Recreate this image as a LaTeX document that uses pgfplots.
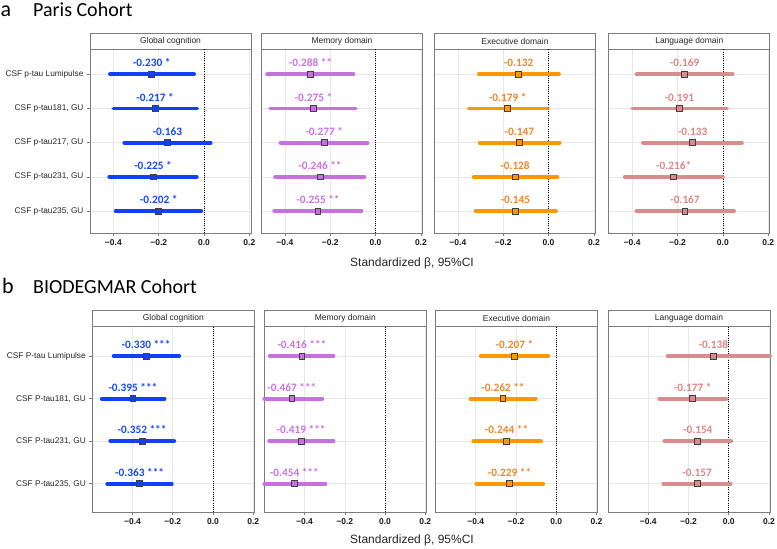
\documentclass[border=0pt]{standalone}
\usepackage{fontspec}
\setmainfont{Liberation Sans}
\newfontfamily\carlito{Carlito}
\usepackage{pgfplots}
\pgfplotsset{compat=1.18}
\usepackage{pgfplotstable}

\definecolor{cBlue}{RGB}{16,64,250}
\definecolor{cBlueT}{RGB}{22,72,255}
\definecolor{cViol}{RGB}{200,112,222}
\definecolor{cViolT}{RGB}{204,112,232}
\definecolor{cOran}{RGB}{255,152,0}
\definecolor{cOranT}{RGB}{242,134,40}
\definecolor{cPink}{RGB}{217,140,140}
\definecolor{cPinkT}{RGB}{226,132,132}
\definecolor{frame}{RGB}{125,125,125}
\definecolor{gridc}{RGB}{232,232,232}

% ---------- Paris cohort (y: 5 = Lumipulse ... 1 = p-tau235)
\pgfplotstableread[col sep=comma,row sep=\\]{
y,est,lo,hi,lab\\
5,-0.231,-0.415,-0.044,-0.230 *\\
4,-0.216,-0.400,-0.030,-0.217 *\\
3,-0.162,-0.352,0.029,-0.163\\
2,-0.225,-0.418,-0.032,-0.225 *\\
1,-0.200,-0.390,-0.012,-0.202 *\\
}\PGlob
\pgfplotstableread[col sep=comma,row sep=\\]{
y,est,lo,hi,lab\\
5,-0.287,-0.478,-0.098,-0.288 **\\
4,-0.274,-0.465,-0.087,-0.275 *\\
3,-0.226,-0.419,-0.035,-0.277 *\\
2,-0.245,-0.443,-0.049,-0.246 **\\
1,-0.254,-0.447,-0.062,-0.255 **\\
}\PMem
\pgfplotstableread[col sep=comma,row sep=\\]{
y,est,lo,hi,lab\\
5,-0.132,-0.307,0.046,-0.132\\
4,-0.180,-0.352,-0.003,-0.179 *\\
3,-0.129,-0.304,0.049,-0.147\\
2,-0.148,-0.330,0.039,-0.128\\
1,-0.146,-0.322,0.033,-0.145\\
}\PExe
\pgfplotstableread[col sep=comma,row sep=\\]{
y,est,lo,hi,lab\\
5,-0.169,-0.381,0.043,-0.169\\
4,-0.192,-0.400,0.019,-0.191\\
3,-0.133,-0.352,0.084,-0.133\\
2,-0.217,-0.433,0.000,-0.216*\\
1,-0.167,-0.381,0.049,-0.167\\
}\PLan

% ---------- BIODEGMAR cohort (y: 4 = Lumipulse ... 1 = P-tau235)
\pgfplotstableread[col sep=comma,row sep=\\]{
y,est,lo,hi,lab\\
4,-0.333,-0.494,-0.168,-0.330 ***\\
3,-0.398,-0.553,-0.241,-0.395 ***\\
2,-0.353,-0.511,-0.193,-0.352 ***\\
1,-0.365,-0.526,-0.205,-0.363 ***\\
}\BGlob
\pgfplotstableread[col sep=comma,row sep=\\]{
y,est,lo,hi,lab\\
4,-0.413,-0.573,-0.256,-0.416 ***\\
3,-0.463,-0.600,-0.312,-0.467 ***\\
2,-0.417,-0.576,-0.256,-0.419 ***\\
1,-0.451,-0.600,-0.296,-0.454 ***\\
}\BMem
\pgfplotstableread[col sep=comma,row sep=\\]{
y,est,lo,hi,lab\\
4,-0.208,-0.376,-0.040,-0.207 *\\
3,-0.265,-0.427,-0.101,-0.262 **\\
2,-0.247,-0.412,-0.076,-0.244 **\\
1,-0.232,-0.397,-0.065,-0.229 **\\
}\BExe
\pgfplotstableread[col sep=comma,row sep=\\]{
y,est,lo,hi,lab\\
4,-0.076,-0.303,0.205,-0.138\\
3,-0.179,-0.345,-0.013,-0.177 *\\
2,-0.154,-0.320,0.012,-0.154\\
1,-0.157,-0.325,0.010,-0.157\\
}\BLan

\pgfplotsset{
  panel/.style={
    scale only axis, anchor=south west, clip=false,
    axis line style={draw=frame, line width=0.9bp},
    grid=major, major grid style={draw=gridc, line width=0.6bp},
    xtick={-0.4,-0.2,0,0.2},
    xticklabels={\textbf{−0.4},\textbf{−0.2},\textbf{0.0},\textbf{0.2}},
    xticklabel style={font=\fontsize{8.5bp}{10bp}\selectfont\bfseries, text=black!90},
    yticklabel style={font=\fontsize{8.3bp}{10bp}\selectfont, text=black!85},
    tick style={draw=frame, line width=0.6bp},
    tick align=outside, major tick length=3bp,
    xtick pos=bottom, ytick pos=left,
  },
  noylab/.style={yticklabels={}, ytick style={draw=none}},
  toprow/.style={width=161bp, height=184bp, xmin=-0.503, xmax=0.207,
    ymin=0.36, ymax=5.74, ytick={1,2,3,4,5}},
  botrow/.style={width=162bp, height=185.6bp, xmin=-0.6, xmax=0.205,
    ymin=0.33, ymax=4.69, ytick={1,2,3,4}},
}

\newcommand{\forest}[3]{%
  \draw[black, line width=0.7bp, dash pattern=on 1bp off 1.2bp]
    ({rel axis cs:0,0} -| {axis cs:0,1}) -- ({rel axis cs:0,1} -| {axis cs:0,1});
  \addplot[only marks, mark=square*, mark size=2.9bp,
    mark options={fill=#1, draw=black!75, line width=0.8bp},
    error bars/x dir=both, error bars/x explicit, error bars/error mark=none,
    error bars/error bar style={line width=3.8bp, color=#1, line cap=round},
    nodes near coords, point meta=explicit symbolic,
    nodes near coords style={font=\carlito\bfseries\fontsize{11.3bp}{13bp}\selectfont,
      text=#2, anchor=base, yshift=7.5bp, inner sep=0pt}]
    table[x=est, y=y, meta=lab,
      x error plus expr=\thisrow{hi}-\thisrow{est},
      x error minus expr=\thisrow{est}-\thisrow{lo}] {#3};
}
\newcommand{\strip}[1]{%
  \draw[draw=frame, line width=0.9bp, fill=white] (rel axis cs:0,1) rectangle ([yshift=16bp]rel axis cs:1,1);
  \node[font=\fontsize{8.5bp}{10bp}\selectfont, text=black!85] at ([yshift=8bp]rel axis cs:0.5,1) {#1};
}

\begin{document}
\begin{tikzpicture}
\path[use as bounding box] (0,0) rectangle (777bp,549bp);

% titles
\node[anchor=base west, inner sep=0pt, font=\carlito\fontsize{22bp}{24bp}\selectfont] at (0.5bp,532bp) {a};
\node[anchor=base west, inner sep=0pt, font=\carlito\fontsize{20bp}{22bp}\selectfont] at (33bp,532bp) {Paris Cohort};
\node[anchor=base west, inner sep=0pt, font=\carlito\fontsize{22bp}{24bp}\selectfont] at (2bp,255bp) {b};
\node[anchor=base west, inner sep=0pt, font=\carlito\fontsize{20bp}{22bp}\selectfont] at (33bp,255bp) {BIODEGMAR Cohort};

\node[font=\fontsize{12bp}{14bp}\selectfont, text=black!85] at (412bp,286bp) {Standardized β, 95\%CI};
\node[font=\fontsize{12bp}{14bp}\selectfont, text=black!85] at (412bp,9bp) {Standardized β, 95\%CI};

% ---------------- top row
\begin{axis}[panel, toprow, at={(90bp,316bp)},
  yticklabels={{CSF p-tau235, GU},{CSF p-tau231, GU},{CSF p-tau217, GU},{CSF p-tau181, GU},{CSF p-tau Lumipulse}}]
  \strip{Global cognition}
  \forest{cBlue}{cBlueT}{\PGlob}
\end{axis}
\begin{axis}[panel, toprow, noylab, at={(261.5bp,316bp)}]
  \strip{Memory domain}
  \forest{cViol}{cViolT}{\PMem}
\end{axis}
\begin{axis}[panel, toprow, noylab, at={(434.5bp,316bp)}]
  \strip{Executive domain}
  \forest{cOran}{cOranT}{\PExe}
\end{axis}
\begin{axis}[panel, toprow, noylab, at={(608.8bp,316bp)}]
  \strip{Language domain}
  \forest{cPink}{cPinkT}{\PLan}
\end{axis}

% ---------------- bottom row
\begin{axis}[panel, botrow, at={(92.3bp,36.7bp)},
  yticklabels={{CSF P-tau235, GU},{CSF P-tau231, GU},{CSF P-tau181, GU},{CSF P-tau Lumipulse}}]
  \strip{Global cognition}
  \forest{cBlue}{cBlueT}{\BGlob}
\end{axis}
\begin{axis}[panel, botrow, noylab, at={(264.3bp,36.7bp)}]
  \strip{Memory domain}
  \forest{cViol}{cViolT}{\BMem}
\end{axis}
\begin{axis}[panel, botrow, noylab, at={(435.5bp,36.7bp)}]
  \strip{Executive domain}
  \forest{cOran}{cOranT}{\BExe}
\end{axis}
\begin{axis}[panel, botrow, noylab, at={(608bp,36.7bp)}]
  \strip{Language domain}
  \forest{cPink}{cPinkT}{\BLan}
\end{axis}
\end{tikzpicture}
\end{document}
